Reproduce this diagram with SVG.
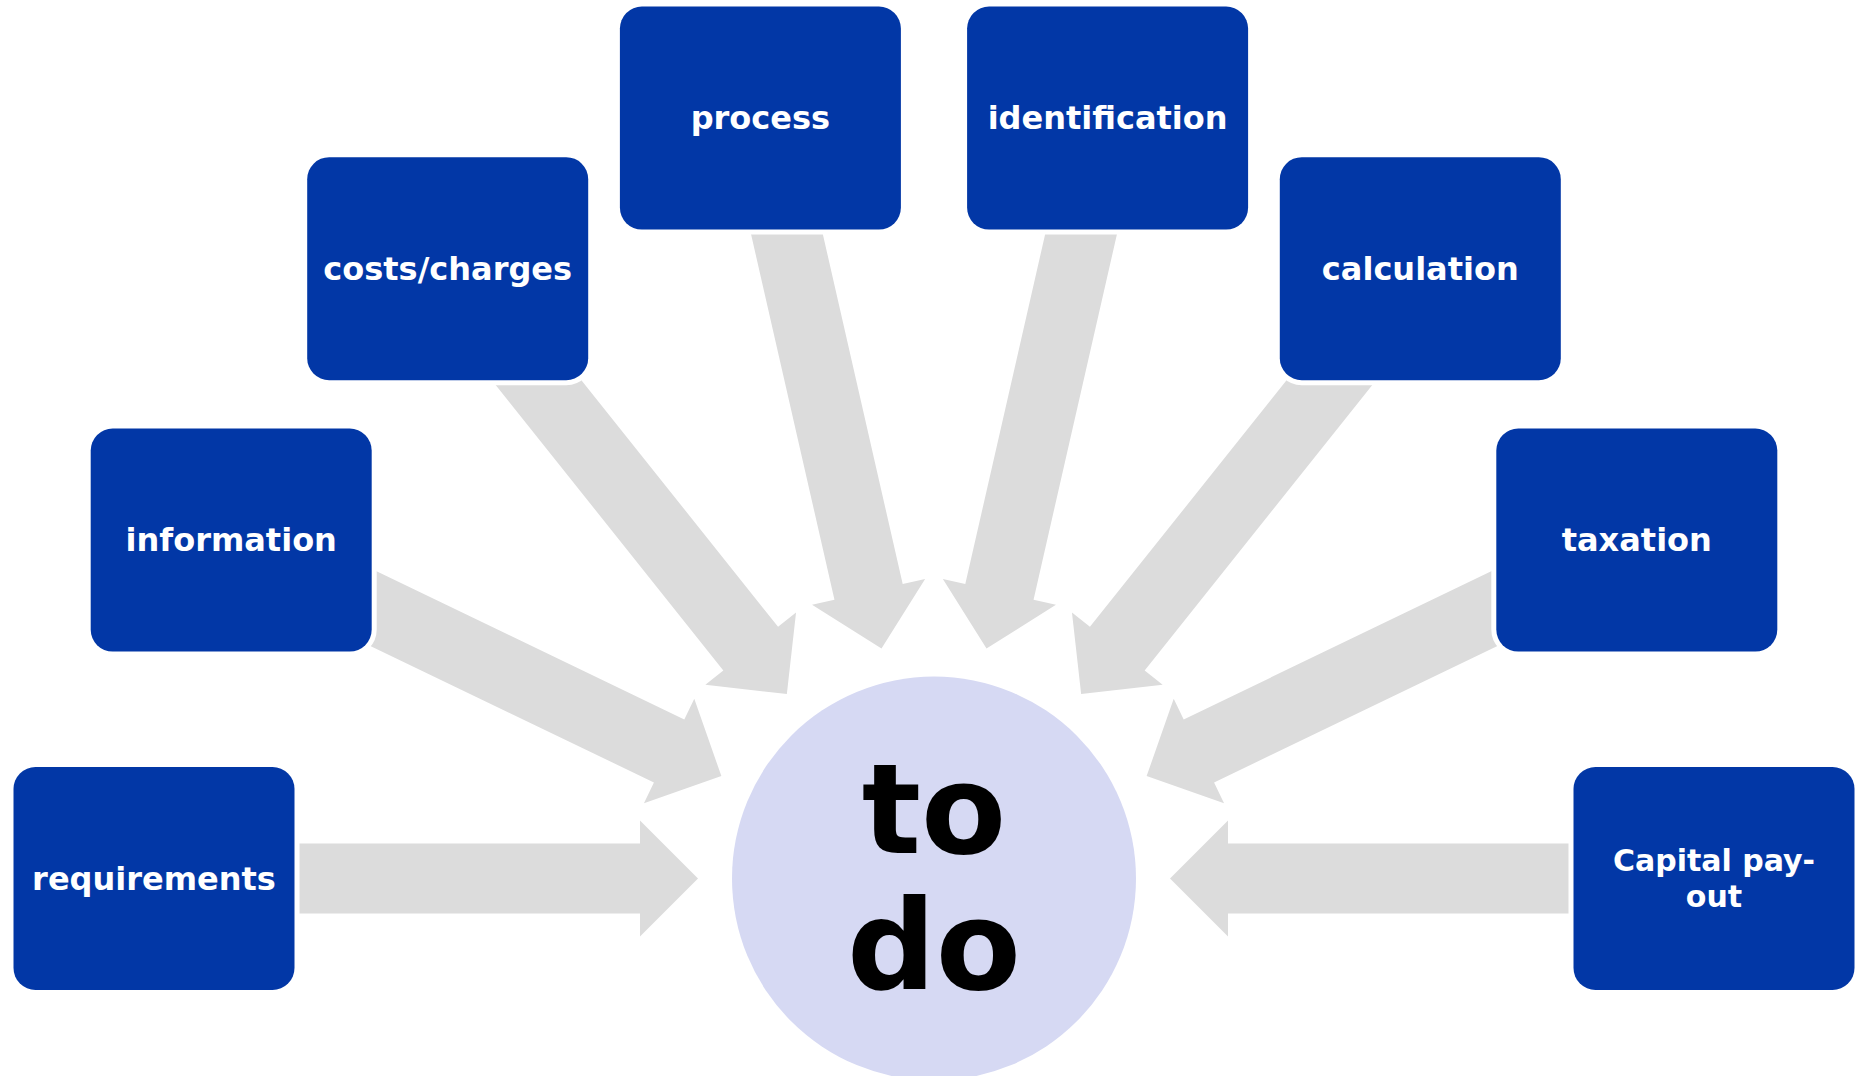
<svg xmlns="http://www.w3.org/2000/svg" xmlns:xlink="http://www.w3.org/1999/xlink" width="1859" height="1076" viewBox="0 0 1859 1076">
  <style>
    .box { fill: #0237a6; stroke: #ffffff; stroke-width: 10; paint-order: stroke fill; }
    .label { font-family: "DejaVu Sans", "Liberation Sans", sans-serif; font-weight: bold; font-size: 32px; fill: #ffffff; text-anchor: middle; }
    .label.two { font-size: 30px; }
    .hub { fill: #d6d9f3; }
    .hubtext { font-family: "DejaVu Sans", "Liberation Sans", sans-serif; font-weight: bold; font-size: 124px; fill: #000000; text-anchor: middle; }
    .arrow { fill: #dcdcdc; }
  </style>
  <defs>
    <!-- block arrow pointing at the hub centre (origin); tail reaches the node centre -->
    <path id="spoke" d="M -780 -35 L -294 -35 L -294 -58 L -236 0 L -294 58 L -294 35 L -780 35 Z"/>
  </defs>
  <rect width="1859" height="1076" fill="#ffffff"/>

  <!-- connectors: eight spokes at 180/7 degree steps -->
  <g id="connectors" class="arrow">
    <use xlink:href="#spoke" href="#spoke" transform="translate(934 878.5) rotate(0)"/>
    <use xlink:href="#spoke" href="#spoke" transform="translate(934 878.5) rotate(25.714)"/>
    <use xlink:href="#spoke" href="#spoke" transform="translate(934 878.5) rotate(51.429)"/>
    <use xlink:href="#spoke" href="#spoke" transform="translate(934 878.5) rotate(77.143)"/>
    <use xlink:href="#spoke" href="#spoke" transform="translate(934 878.5) rotate(102.857)"/>
    <use xlink:href="#spoke" href="#spoke" transform="translate(934 878.5) rotate(128.571)"/>
    <use xlink:href="#spoke" href="#spoke" transform="translate(934 878.5) rotate(154.286)"/>
    <use xlink:href="#spoke" href="#spoke" transform="translate(934 878.5) rotate(180)"/>
  </g>

  <!-- hub -->
  <g id="hub">
    <circle class="hub" cx="934" cy="878.5" r="202"/>
    <text class="hubtext" x="934" y="853">to</text>
    <text class="hubtext" x="934" y="989">do</text>
  </g>

  <g id="node-requirements">
    <rect class="box" x="13.5" y="767" width="281" height="223" rx="22"/>
    <text class="label" x="154" y="889.5">requirements</text>
  </g>
  <g id="node-information">
    <rect class="box" x="90.7" y="428.6" width="281" height="223" rx="22"/>
    <text class="label" x="231.2" y="551">information</text>
  </g>
  <g id="node-costs">
    <rect class="box" x="307.2" y="157.2" width="281" height="223" rx="22"/>
    <text class="label" x="447.7" y="279.5">costs/charges</text>
  </g>
  <g id="node-process">
    <rect class="box" x="619.9" y="6.6" width="281" height="223" rx="22"/>
    <text class="label" x="760.4" y="129">process</text>
  </g>
  <g id="node-identification">
    <rect class="box" x="967.1" y="6.6" width="281" height="223" rx="22"/>
    <text class="label" x="1107.6" y="129">identification</text>
  </g>
  <g id="node-calculation">
    <rect class="box" x="1279.8" y="157.2" width="281" height="223" rx="22"/>
    <text class="label" x="1420.3" y="279.5">calculation</text>
  </g>
  <g id="node-taxation">
    <rect class="box" x="1496.3" y="428.6" width="281" height="223" rx="22"/>
    <text class="label" x="1636.8" y="551">taxation</text>
  </g>
  <g id="node-capital">
    <rect class="box" x="1573.5" y="767" width="281" height="223" rx="22"/>
    <text class="label two" x="1714" y="871">Capital pay-</text>
    <text class="label two" x="1714" y="907">out</text>
  </g>
</svg>
